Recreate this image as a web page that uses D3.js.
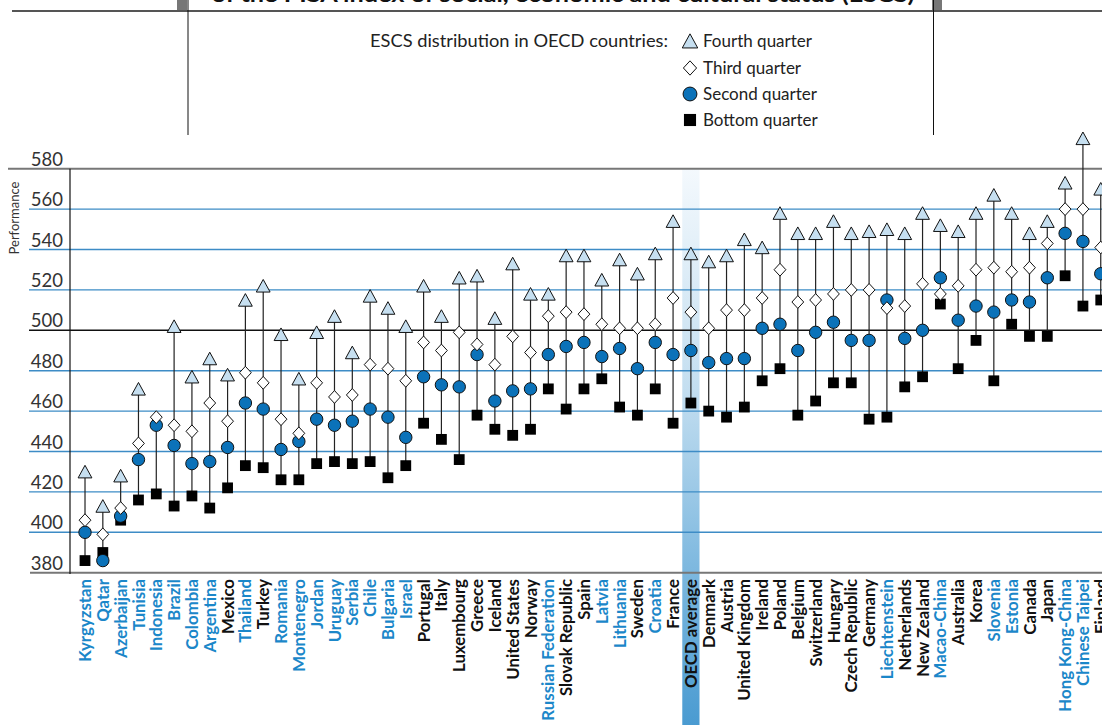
<!DOCTYPE html>
<html>
<head>
<meta charset="utf-8">
<script src="https://cdn.jsdelivr.net/npm/d3@7"></script>
<style>
  html, body { margin: 0; padding: 0; background: #fff; overflow: hidden; }
  svg { display: block; }
</style>
</head>
<body>
<svg id="chart" width="1102" height="725"></svg>
<script>
// ---------- DATA ----------
const countries = ["Kyrgyzstan","Qatar","Azerbaijan","Tunisia","Indonesia","Brazil","Colombia","Argentina","Mexico","Thailand","Turkey","Romania","Montenegro","Jordan","Uruguay","Serbia","Chile","Bulgaria","Israel","Portugal","Italy","Luxembourg","Greece","Iceland","United States","Norway","Russian Federation","Slovak Republic","Spain","Latvia","Lithuania","Sweden","Croatia","France","OECD average","Denmark","Austria","United Kingdom","Ireland","Poland","Belgium","Switzerland","Hungary","Czech Republic","Germany","Liechtenstein","Netherlands","New Zealand","Macao-China","Australia","Korea","Slovenia","Estonia","Canada","Japan","Hong Kong-China","Chinese Taipei","Finland"];

const partners = ["Kyrgyzstan","Qatar","Azerbaijan","Tunisia","Indonesia","Brazil","Colombia","Argentina","Thailand","Romania","Montenegro","Jordan","Uruguay","Serbia","Chile","Bulgaria","Israel","Russian Federation","Latvia","Lithuania","Croatia","Liechtenstein","Macao-China","Slovenia","Estonia","Hong Kong-China","Chinese Taipei"];

const fourthQuarter = [430,413,428,471,null,502,477,486,478,515,522,498,476,499,507,489,517,511,502,522,507,526,527,506,533,518,518,537,537,525,535,528,538,554,538,534,537,545,541,558,548,548,554,548,549,550,548,558,552,549,558,567,558,548,554,573,595,570];
const thirdQuarter  = [406,399,412,444,457,453,450,464,455,479,474,456,449,474,467,468,483,481,475,494,490,499,493,483,497,489,507,509,508,503,501,501,503,516,509,501,510,510,516,530,514,515,518,520,520,511,512,523,518,522,530,531,529,531,543,560,560,541];
const secondQuarter = [400,386,408,436,453,443,434,435,442,464,461,441,445,456,453,455,461,457,447,477,473,472,488,465,470,471,488,492,494,487,491,481,494,488,490,484,486,486,501,503,490,499,504,495,495,515,496,500,526,505,512,509,515,514,526,548,544,528];
const bottomQuarter = [386,390,406,416,419,413,418,412,422,433,432,426,426,434,435,434,435,427,433,454,446,436,458,451,448,451,471,461,471,476,462,458,471,454,464,460,457,462,475,481,458,465,474,474,456,457,472,477,513,481,495,475,503,497,497,527,512,515];

const yTicks = [380,400,420,440,460,480,500,520,540,560,580];
const legendItems = ["Fourth quarter","Third quarter","Second quarter","Bottom quarter"];
const titleText = "of the PISA index of social, economic and cultural status (ESCS)";
const legendTitle = "ESCS distribution in OECD countries:";
const highlight = "OECD average";

// ---------- SETUP ----------
const svg = d3.select("#chart");
const W = 1102, H = 725;
const FONT = "Lato, 'Open Sans', 'DejaVu Sans', sans-serif";
const BLUE_TXT = "#1b87c9";

const x = d3.scaleBand().domain(countries).range([76.1, 76.1 + 58 * 17.82]).padding(0);
const cx = c => x(c) + x.bandwidth() / 2;
const y = d3.scaleLinear().domain([380, 580]).range([572.7, 168.7]);

function fit(sel, w) {
  const n = sel.node();
  const l = n.getComputedTextLength();
  if (l > 0 && Math.abs(l - w) > 1) sel.attr("textLength", w).attr("lengthAdjust", "spacingAndGlyphs");
}

// ---------- DEFS ----------
const defs = svg.append("defs");
const grad = defs.append("linearGradient").attr("id", "bandGrad")
  .attr("x1", 0).attr("y1", 0).attr("x2", 0).attr("y2", 1);
grad.append("stop").attr("offset", "0%").attr("stop-color", "#f4f9fd");
grad.append("stop").attr("offset", "40%").attr("stop-color", "#c3def0");
grad.append("stop").attr("offset", "72%").attr("stop-color", "#7db8df");
grad.append("stop").attr("offset", "100%").attr("stop-color", "#4a9bd1");

// ---------- HEADER ----------
const t = svg.append("text").attr("x", 563).attr("y", 2)
  .attr("text-anchor", "middle").attr("font-family", FONT).attr("font-weight", "bold")
  .attr("font-size", 21).attr("fill", "#111").text(titleText);
fit(t, 703);

svg.append("line").attr("x1", 12).attr("x2", W).attr("y1", 11).attr("y2", 11)
  .attr("stroke", "#555").attr("stroke-width", 2);
svg.append("rect").attr("x", 177).attr("y", 0).attr("width", 10).attr("height", 10).attr("fill", "#777");
svg.append("rect").attr("x", 932).attr("y", 0).attr("width", 10).attr("height", 10).attr("fill", "#777");
svg.append("line").attr("x1", 188).attr("x2", 188).attr("y1", 0).attr("y2", 135).attr("stroke", "#111").attr("stroke-width", 1);
svg.append("line").attr("x1", 933.5).attr("x2", 933.5).attr("y1", 0).attr("y2", 135).attr("stroke", "#111").attr("stroke-width", 1);

// ---------- MARKERS ----------
function drawMarker(g, type, px, py, s) {
  s = s || 1;
  if (type === 3) { // fourth: triangle
    g.append("path").attr("d", `M${px},${py-6.4*s} L${px+6.9*s},${py+6.2*s} L${px-6.9*s},${py+6.2*s} Z`)
      .attr("fill", "#c6dff0").attr("stroke", "#111").attr("stroke-width", 1);
  } else if (type === 2) { // third: diamond
    g.append("path").attr("d", `M${px},${py-6.4*s} L${px+5.9*s},${py} L${px},${py+6.4*s} L${px-5.9*s},${py} Z`)
      .attr("fill", "#fff").attr("stroke", "#111").attr("stroke-width", 1);
  } else if (type === 1) { // second: circle
    g.append("circle").attr("cx", px).attr("cy", py).attr("r", 6.2*s)
      .attr("fill", "#0b72b9").attr("stroke", "#111").attr("stroke-width", 1);
  } else { // bottom: square
    g.append("rect").attr("x", px - 5.4*s).attr("y", py - 5.4*s).attr("width", 10.8*s).attr("height", 10.8*s)
      .attr("fill", "#000");
  }
}

// ---------- LEGEND ----------
const lt = svg.append("text").attr("x", 668).attr("y", 47).attr("text-anchor", "end")
  .attr("font-family", FONT).attr("font-size", 17).attr("fill", "#222").text(legendTitle);
fit(lt, 298);
const legY = [41, 68, 94, 120];
const legG = svg.append("g");
legendItems.forEach((name, i) => {
  drawMarker(legG, 3 - i, 690, legY[i], 1.12);
  legG.append("text").attr("x", 703).attr("y", legY[i] + 6)
    .attr("font-family", FONT).attr("font-size", 17).attr("fill", "#222").text(name);
});

// ---------- HIGHLIGHT BAND ----------
svg.append("rect").attr("x", x(highlight) + 0.3).attr("y", 168)
  .attr("width", x.bandwidth() - 0.6).attr("height", H - 168)
  .attr("fill", "url(#bandGrad)");

// ---------- GRID ----------
const grid = svg.append("g");
yTicks.forEach(v => {
  let stroke = "#3d8cc6", sw = 1.4, x1 = 29;
  if (v === 500) { stroke = "#111"; sw = 1.4; }
  if (v === 580) { stroke = "#777"; sw = 2; x1 = 8; }
  if (v === 380) { stroke = "#777"; sw = 2; x1 = 30; }
  grid.append("line").attr("x1", x1).attr("x2", W).attr("y1", y(v)).attr("y2", y(v))
    .attr("stroke", stroke).attr("stroke-width", sw);
  grid.append("text").attr("x", 63).attr("y", y(v) - 3).attr("text-anchor", "end")
    .attr("font-family", FONT).attr("font-size", 18.5).attr("fill", "#333").text(v);
});
svg.append("line").attr("x1", 70).attr("x2", 70).attr("y1", y(580)).attr("y2", 574)
  .attr("stroke", "#111").attr("stroke-width", 1.2);
svg.append("text").attr("transform", `translate(19,218) rotate(-90)`).attr("text-anchor", "middle")
  .attr("font-family", FONT).attr("font-size", 13).attr("fill", "#333").text("Performance");

// ---------- DATA MARKS ----------
const marks = svg.append("g");
const series = [bottomQuarter, secondQuarter, thirdQuarter, fourthQuarter];
countries.forEach((c, i) => {
  const vals = series.map(s => s[i]).filter(v => v != null);
  marks.append("line").attr("x1", cx(c)).attr("x2", cx(c))
    .attr("y1", y(d3.min(vals))).attr("y2", y(d3.max(vals)))
    .attr("stroke", "#222").attr("stroke-width", 1.2);
});
series.forEach((s, k) => {
  countries.forEach((c, i) => {
    if (s[i] != null) drawMarker(marks, k, cx(c), y(s[i]));
  });
});

// ---------- X LABELS ----------
const lab = svg.append("g");
countries.forEach(c => {
  lab.append("text")
    .attr("transform", `translate(${cx(c)},579) rotate(-90)`)
    .attr("dy", "0.36em")
    .attr("text-anchor", "end")
    .attr("font-family", FONT).attr("font-weight", "bold").attr("font-size", 16.8)
    .attr("fill", partners.includes(c) ? BLUE_TXT : "#111")
    .text(c);
});
</script>
</body>
</html>
